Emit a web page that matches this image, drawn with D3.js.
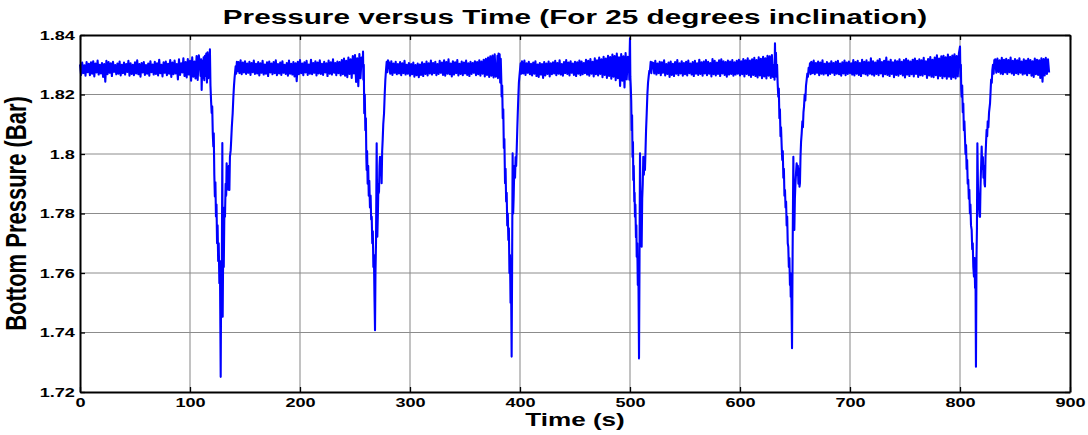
<!DOCTYPE html>
<html>
<head>
<meta charset="utf-8">
<script src="https://cdn.jsdelivr.net/npm/d3@7"></script>
<style>
  body { margin: 0; background: #fff; }
  text { font-family: 'Liberation Sans', Arial, sans-serif; font-weight: bold; fill: #000; }
</style>
</head>
<body>
<svg id="chart" width="1088" height="435"></svg>
<script>
// Axis settings
const xTicks = [0, 100, 200, 300, 400, 500, 600, 700, 800, 900];
const yTicks = [1.72, 1.74, 1.76, 1.78, 1.8, 1.82, 1.84];
const titleText = 'Pressure versus Time (For 25 degrees inclination)';
const xLabel = 'Time (s)';
const yLabel = 'Bottom Pressure (Bar)';

// Flat stretches between the dips: one sample per second,
// values in mbar above 1.800 bar
const baseA = [ // t = 0..108
  30.1, 26.6, 30.7, 27.2, 29.8, 26.3, 30.9, 27.5, 30.3, 26.5,
  30.8, 27.0, 31.2, 26.1, 30.4, 27.4, 31.4, 26.7, 30.0, 27.1,
  30.6, 25.9, 30.2, 24.3, 31.3, 26.8, 30.9, 27.3, 30.5, 26.2,
  31.0, 27.6, 29.9, 26.8, 30.4, 27.0, 31.1, 26.4, 30.0, 27.2,
  30.7, 26.7, 30.2, 27.6, 31.3, 26.3, 30.5, 26.9, 30.0, 26.5,
  30.8, 27.1, 31.5, 26.8, 30.2, 26.0, 30.6, 27.4, 30.9, 26.6,
  29.9, 27.0, 30.4, 26.3, 31.2, 27.5, 30.1, 26.7, 31.0, 26.9,
  30.5, 26.4, 31.7, 27.2, 30.0, 26.1, 30.8, 27.3, 31.1, 26.5,
  30.3, 27.0, 31.6, 25.9, 30.7, 26.8, 31.4, 27.1, 30.2, 25.1,
  31.8, 26.6, 30.5, 27.4, 32.2, 26.2, 30.9, 25.7, 31.9, 26.7,
  31.3, 24.6, 32.5, 26.0, 31.1, 25.4, 32.9, 24.9, 33.2
];
const baseB = [ // t = 144..256
  30.9, 27.2, 31.5, 26.8, 30.7, 27.4, 31.2, 26.9, 30.4, 27.3,
  31.0, 26.6, 30.6, 27.5, 31.4, 26.9, 30.3, 27.1, 30.9, 26.4,
  30.5, 27.3, 31.3, 26.7, 30.1, 27.0, 30.8, 26.2, 31.1, 27.4,
  30.4, 26.8, 30.9, 27.2, 31.5, 26.5, 30.2, 27.1, 30.7, 26.6,
  31.2, 27.3, 30.0, 26.9, 30.6, 26.3, 31.4, 27.0, 30.3, 26.7,
  30.9, 26.1, 30.5, 24.5, 31.0, 26.8, 31.6, 27.2, 30.4, 26.5,
  30.8, 27.4, 31.3, 26.6, 30.1, 27.0, 31.7, 26.8, 30.6, 27.3,
  31.2, 26.4, 30.7, 27.1, 31.5, 26.9, 30.3, 26.6, 31.0, 27.4,
  30.5, 26.2, 31.4, 27.0, 30.8, 26.7, 31.8, 27.3, 30.6, 26.5,
  31.1, 27.2, 30.9, 26.4, 31.6, 26.8, 32.1, 26.3, 31.3, 25.8,
  32.4, 26.9, 31.8, 25.6, 32.9, 27.1, 33.3, 24.2, 32.2, 22.8,
  33.6, 25.5, 32.4
];
const baseC = [ // t = 281..378
  30.6, 27.0, 31.2, 26.6, 30.4, 27.3, 31.0, 26.8, 30.2, 27.1,
  30.9, 26.5, 30.5, 27.2, 31.3, 26.7, 30.0, 27.0, 30.6, 26.3,
  30.2, 26.8, 30.7, 26.0, 29.9, 26.5, 30.4, 25.8, 30.1, 26.6,
  30.8, 26.2, 30.3, 26.9, 31.1, 26.4, 30.5, 27.1, 31.4, 26.7,
  30.6, 27.2, 31.0, 26.5, 30.2, 26.9, 31.3, 27.3, 30.7, 26.6,
  31.5, 26.3, 30.9, 27.0, 31.8, 26.8, 30.4, 26.1, 31.2, 26.7,
  30.8, 27.2, 31.6, 26.4, 30.3, 26.9, 31.1, 26.5, 30.7, 27.1,
  31.4, 26.6, 30.5, 26.2, 31.0, 26.9, 30.6, 27.3, 31.2, 26.5,
  30.9, 26.8, 31.5, 26.3, 31.1, 27.0, 31.7, 26.1, 32.0, 26.6,
  32.4, 25.9, 32.8, 26.3, 33.1, 25.7, 33.5, 26.0
];
const baseD = [ // t = 402..498
  30.8, 27.1, 31.4, 26.6, 30.5, 27.3, 31.0, 26.8, 30.3, 26.4,
  30.7, 27.0, 31.2, 26.2, 30.1, 25.9, 30.6, 26.7, 30.2, 25.6,
  30.9, 26.4, 30.4, 26.9, 31.1, 26.1, 30.5, 26.8, 30.8, 27.1,
  31.3, 26.5, 30.6, 27.0, 31.5, 26.7, 30.2, 26.3, 30.9, 27.2,
  31.6, 26.9, 30.7, 26.4, 31.2, 27.3, 30.4, 26.6, 31.0, 26.2,
  30.8, 27.0, 31.4, 26.5, 31.1, 26.8, 30.6, 27.2, 31.7, 26.7,
  31.3, 26.3, 31.9, 27.0, 31.0, 26.1, 32.2, 26.8, 31.5, 26.4,
  32.4, 26.9, 31.8, 25.8, 32.7, 26.6, 32.1, 25.6, 33.0, 26.2,
  32.6, 25.3, 33.4, 26.0, 32.9, 24.8, 33.8, 25.5, 32.5, 22.9,
  33.6, 24.6, 32.8, 22.4, 33.9, 25.1, 32.7
];
const baseE = [ // t = 521..630
  30.6, 27.1, 31.3, 26.7, 30.4, 27.2, 31.0, 26.5, 30.8, 27.3,
  31.5, 26.4, 30.2, 26.9, 30.7, 25.9, 31.1, 26.6, 30.3, 26.2,
  30.9, 27.0, 31.6, 26.5, 30.5, 27.1, 31.2, 26.3, 30.6, 26.8,
  31.0, 26.4, 31.4, 27.2, 30.4, 26.7, 30.9, 26.2, 31.3, 27.0,
  30.5, 26.6, 31.7, 26.9, 30.8, 26.3, 31.1, 27.1, 31.6, 26.5,
  31.0, 27.0, 30.6, 26.1, 31.9, 26.8, 31.3, 26.4, 30.7, 26.9,
  31.5, 26.2, 31.8, 27.1, 31.2, 26.6, 30.9, 26.0, 31.4, 26.7,
  31.1, 26.9, 31.6, 26.3, 30.8, 26.7, 31.3, 27.0, 31.7, 26.4,
  31.2, 26.8, 31.9, 26.1, 31.5, 26.9, 32.2, 26.5, 31.4, 25.9,
  31.8, 26.6, 32.3, 26.2, 31.6, 25.7, 32.5, 26.4, 32.0, 25.5,
  32.7, 26.1, 32.2, 25.4, 33.0, 26.3, 32.8, 25.6, 33.3, 25.9
];
const baseF = [ // t = 665..799
  30.9, 27.2, 31.4, 26.8, 30.6, 27.3, 31.1, 26.5, 30.7, 27.0,
  31.5, 26.7, 30.3, 27.1, 30.9, 26.4, 30.5, 26.9, 31.2, 27.3,
  30.6, 26.6, 31.0, 27.0, 31.3, 26.8, 30.4, 26.3, 30.8, 27.1,
  31.4, 26.5, 30.7, 26.9, 31.1, 27.2, 30.5, 26.7, 31.6, 26.4,
  30.9, 27.0, 31.3, 26.6, 30.6, 26.2, 31.7, 27.1, 31.0, 26.8,
  31.5, 26.4, 30.8, 27.0, 32.2, 26.7, 31.2, 26.3, 30.7, 26.9,
  31.4, 26.5, 31.9, 27.1, 30.9, 26.1, 31.3, 26.8, 32.4, 26.6,
  31.1, 26.2, 31.7, 26.9, 30.8, 25.8, 31.5, 26.6, 31.2, 26.3,
  31.8, 26.9, 31.0, 26.4, 31.6, 25.7, 32.0, 26.7, 31.4, 26.2,
  31.1, 26.8, 31.7, 26.1, 32.1, 26.9, 31.3, 25.9, 31.8, 26.5,
  31.5, 26.3, 32.3, 26.8, 31.2, 25.6, 31.9, 26.4, 32.6, 26.0,
  31.7, 25.8, 32.4, 26.5, 33.2, 25.4, 32.1, 26.2, 32.8, 25.5,
  33.0, 26.1, 32.5, 25.3, 33.4, 26.0, 32.7, 25.2, 33.1, 25.8,
  33.5, 25.4, 32.9, 26.1, 33.8
];
const baseG = [ // t = 832..881
  31.8, 27.3, 32.1, 27.6, 31.5, 27.0, 32.3, 26.8, 31.7, 27.4,
  32.0, 26.9, 31.6, 27.5, 32.4, 27.1, 31.3, 26.6, 31.9, 27.2,
  31.5, 26.8, 32.2, 27.3, 31.1, 26.7, 31.8, 27.0, 31.4, 26.5,
  32.0, 27.2, 31.6, 26.3, 31.2, 25.9, 32.1, 26.8, 31.7, 26.6,
  31.5, 25.6, 32.2, 24.3, 31.9, 26.4, 32.3, 26.9, 31.8, 27.4
];

// The six pressure dips, [time (s), pressure (bar)]
const dip1 = [
  [109, 1.8305], [109.6, 1.8262], [110.2, 1.8318], [110.6, 1.8215], [111.2, 1.8312], [111.8, 1.8255],
  [112.4, 1.8325], [113, 1.8248], [113.6, 1.833], [114.2, 1.8262], [114.8, 1.8338], [115.4, 1.824],
  [116, 1.8342], [116.6, 1.8255], [117.2, 1.8335], [117.7, 1.8265], [118.1, 1.8352], [118.6, 1.823],
  [119.2, 1.8175], [119.7, 1.8138], [120.2, 1.816], [120.7, 1.807], [121.2, 1.8025], [121.6, 1.807],
  [122.1, 1.793], [122.6, 1.7857], [123.1, 1.7905], [123.6, 1.779], [124.1, 1.783], [124.6, 1.77],
  [125.1, 1.776], [125.6, 1.764], [126.1, 1.77], [126.7, 1.7566], [127.2, 1.764], [127.6, 1.742],
  [127.9, 1.7251], [128.3, 1.756], [128.8, 1.748], [129.4, 1.8037], [129.7, 1.7453], [130.2, 1.77],
  [130.7, 1.762], [131.3, 1.782], [131.8, 1.7789], [132.4, 1.79], [132.9, 1.786], [133.3, 1.7969],
  [133.8, 1.791], [134.3, 1.795], [134.8, 1.788], [135.3, 1.796], [135.8, 1.7879], [136.3, 1.799],
  [137, 1.8013], [137.5, 1.805], [138, 1.809], [138.5, 1.812], [138.8, 1.8137], [139.4, 1.819],
  [140, 1.823], [140.5, 1.8255], [140.9, 1.8271], [141.5, 1.8295], [142, 1.827], [142.6, 1.831],
  [143.2, 1.8278], [143.9, 1.8305]
];
const dip2 = [
  [257, 1.83], [257.3, 1.8344], [257.6, 1.825], [258, 1.83], [258.4, 1.8137], [258.9, 1.82],
  [259.4, 1.808], [259.9, 1.812], [260.3, 1.799], [260.6, 1.7946], [261, 1.801], [261.5, 1.79],
  [262, 1.796], [262.5, 1.786], [263, 1.791], [263.6, 1.782], [264.2, 1.786], [264.7, 1.778],
  [265.2, 1.7789], [265.7, 1.77], [266.2, 1.774], [266.7, 1.762], [267.2, 1.766], [267.7, 1.752],
  [268.2, 1.7408], [268.6, 1.76], [269.1, 1.77], [269.7, 1.8036], [270.3, 1.7722], [270.8, 1.78],
  [271.3, 1.79], [271.8, 1.787], [272.3, 1.796], [272.7, 1.7991], [273.2, 1.793], [273.7, 1.799],
  [274.2, 1.7902], [274.7, 1.801], [275.2, 1.805], [275.7, 1.81], [276.4, 1.8137], [277, 1.82],
  [277.6, 1.825], [278.2, 1.8282], [278.8, 1.831], [279.4, 1.8275], [280, 1.8315]
];
const dip3 = [
  [379, 1.827], [379.5, 1.833], [380, 1.8255], [380.5, 1.8338], [381, 1.8262], [381.5, 1.8335],
  [382, 1.824], [382.5, 1.832], [383, 1.825], [383.3, 1.8193], [383.8, 1.823], [384.3, 1.812],
  [384.8, 1.815], [385.3, 1.802], [385.8, 1.805], [386.4, 1.7902], [386.9, 1.795], [387.4, 1.784],
  [387.9, 1.787], [388.4, 1.776], [388.9, 1.78], [389.4, 1.7711], [389.9, 1.775], [390.4, 1.76],
  [390.9, 1.766], [391.4, 1.75], [391.9, 1.756], [392.4, 1.7319], [392.8, 1.76], [393.3, 1.8002],
  [393.8, 1.78], [394.2, 1.785], [394.5, 1.7902], [395, 1.796], [395.5, 1.792], [396, 1.799],
  [396.5, 1.796], [397, 1.8013], [397.5, 1.808], [398, 1.814], [398.5, 1.8193], [399, 1.824],
  [399.5, 1.8262], [400, 1.8282], [400.6, 1.8305], [401.2, 1.827], [401.8, 1.8312]
];
const dip4 = [
  [499, 1.83], [499.4, 1.825], [499.7, 1.834], [500, 1.8389], [500.3, 1.826], [500.7, 1.8226],
  [501.1, 1.818], [501.5, 1.808], [501.9, 1.813], [502.3, 1.799], [502.7, 1.804], [503, 1.7913],
  [503.4, 1.796], [503.9, 1.784], [504.2, 1.787], [504.5, 1.7789], [504.9, 1.783], [505.4, 1.772],
  [505.8, 1.776], [506.1, 1.7655], [506.6, 1.77], [507.1, 1.756], [507.6, 1.762], [508.2, 1.7313],
  [508.6, 1.76], [509.1, 1.8002], [509.6, 1.78], [510.1, 1.774], [510.6, 1.7688], [511.1, 1.785],
  [511.6, 1.79], [512.1, 1.7991], [512.6, 1.793], [513.1, 1.798], [513.6, 1.7946], [514.1, 1.801],
  [514.6, 1.808], [515.2, 1.8137], [515.8, 1.82], [516.4, 1.824], [517, 1.8262], [517.6, 1.828],
  [518.2, 1.8282], [518.8, 1.831], [519.4, 1.8272], [520, 1.8308]
];
const dip5 = [
  [631, 1.83], [631.4, 1.825], [631.8, 1.8372], [632.2, 1.828], [632.7, 1.834], [633.2, 1.826],
  [633.7, 1.83], [634.2, 1.824], [634.8, 1.8193], [635.3, 1.822], [635.8, 1.812], [636.3, 1.815],
  [636.8, 1.806], [637.3, 1.809], [637.9, 1.8025], [638.4, 1.798], [638.9, 1.801], [639.4, 1.792],
  [639.9, 1.795], [640.4, 1.786], [640.9, 1.7879], [641.4, 1.782], [641.9, 1.784], [642.4, 1.776],
  [642.9, 1.779], [643.4, 1.77], [643.9, 1.7688], [644.4, 1.762], [644.9, 1.765], [645.4, 1.756],
  [645.8, 1.76], [646.1, 1.752], [646.6, 1.756], [647.3, 1.7347], [647.8, 1.765], [648.5, 1.7991],
  [649, 1.78], [649.4, 1.7745], [649.9, 1.785], [650.4, 1.79], [651, 1.794], [651.5, 1.7969],
  [652, 1.793], [652.6, 1.796], [653.1, 1.79], [653.6, 1.795], [654.1, 1.789], [654.5, 1.7902],
  [655, 1.799], [655.5, 1.804], [656.1, 1.807], [656.7, 1.811], [657.2, 1.809], [657.7, 1.814],
  [658.2, 1.8159], [658.8, 1.82], [659.4, 1.818], [660, 1.823], [660.6, 1.8249], [661.2, 1.827],
  [661.8, 1.826], [662.4, 1.829], [663, 1.8275], [663.6, 1.8305], [664.2, 1.8268], [664.8, 1.831]
];
const dip6 = [
  [800, 1.8361], [800.4, 1.826], [800.8, 1.83], [801.1, 1.822], [801.5, 1.8193], [802, 1.823],
  [802.5, 1.814], [803, 1.817], [803.5, 1.808], [804, 1.811], [804.5, 1.8058], [805, 1.8],
  [805.5, 1.803], [806, 1.795], [806.5, 1.798], [807, 1.79], [807.5, 1.7913], [808, 1.785],
  [808.5, 1.788], [809, 1.78], [809.5, 1.783], [810, 1.776], [810.6, 1.7745], [811.1, 1.768],
  [811.6, 1.77], [812.1, 1.762], [812.7, 1.7588], [813.2, 1.765], [813.7, 1.755], [814.1, 1.76],
  [814.5, 1.7285], [815, 1.765], [815.4, 1.775], [815.8, 1.8036], [816.3, 1.79], [816.8, 1.785],
  [817.3, 1.782], [817.8, 1.779], [818.2, 1.7789], [818.7, 1.79], [819.2, 1.796], [819.7, 1.8025],
  [820.2, 1.795], [820.8, 1.799], [821.3, 1.792], [821.8, 1.796], [822.3, 1.79], [822.7, 1.7891],
  [823.2, 1.799], [823.7, 1.804], [824.2, 1.8081], [824.7, 1.806], [825.2, 1.811], [825.8, 1.809],
  [826.4, 1.814], [827.3, 1.817], [827.8, 1.821], [828.3, 1.825], [828.9, 1.824], [829.4, 1.8282],
  [830, 1.83], [830.6, 1.827], [831.2, 1.8316], [831.8, 1.829]
];

// flat stretch -> [t, bar]
function flat(start, vals) {
  return vals.map((v, i) => [start + i, 1.8 + v / 1000]);
}

const series = [
  ...flat(0, baseA), ...dip1,
  ...flat(144, baseB), ...dip2,
  ...flat(281, baseC), ...dip3,
  ...flat(402, baseD), ...dip4,
  ...flat(521, baseE), ...dip5,
  ...flat(665, baseF), ...dip6,
  ...flat(832, baseG)
];

// The source image is stretched sideways, text included
const stretch = 1.45;

const svg = d3.select('#chart');
const margin = { top: 35, right: 18, bottom: 43, left: 80 };
const width = +svg.attr('width') - margin.left - margin.right;
const height = +svg.attr('height') - margin.top - margin.bottom;

const x = d3.scaleLinear().domain([0, 900]).range([0, width]);
const y = d3.scaleLinear().domain([1.72, 1.84]).range([height, 0]);

const g = svg.append('g').attr('transform', `translate(${margin.left},${margin.top})`);

// Grid
g.append('g')
  .attr('class', 'grid')
  .selectAll('line.gx')
  .data(xTicks.slice(1, -1))
  .join('line')
  .attr('x1', (d) => x(d))
  .attr('x2', (d) => x(d))
  .attr('y1', 0)
  .attr('y2', height)
  .attr('stroke', '#858585')
  .attr('stroke-width', 1);

g.append('g')
  .attr('class', 'grid')
  .selectAll('line.gy')
  .data(yTicks.slice(1, -1))
  .join('line')
  .attr('x1', 0)
  .attr('x2', width)
  .attr('y1', (d) => y(d))
  .attr('y2', (d) => y(d))
  .attr('stroke', '#8c8c8c')
  .attr('stroke-width', 1);

// Pressure trace
const line = d3
  .line()
  .x((d) => x(d[0]))
  .y((d) => y(d[1]));

g.append('path')
  .datum(series)
  .attr('fill', 'none')
  .attr('stroke', '#0000ff')
  .attr('stroke-width', 2.1)
  .attr('stroke-linejoin', 'round')
  .attr('d', line);

// Axes, MATLAB style box with inward ticks
const fmt = d3.format('~g');

function styleAxis(sel) {
  sel.select('.domain').attr('stroke', '#000').attr('stroke-width', 2);
  sel.selectAll('.tick line').attr('stroke', '#000').attr('stroke-width', 1.3);
  sel.selectAll('.tick text').attr('font-size', 12.5).attr('font-weight', 'bold').attr('fill', '#000');
}

g.append('g')
  .attr('transform', `translate(0,${height})`)
  .call(d3.axisBottom(x).tickValues(xTicks).tickFormat(fmt).tickSize(-5).tickSizeOuter(0).tickPadding(6))
  .call(styleAxis)
  .selectAll('.tick text')
  .attr('transform', `scale(${stretch},1)`);

g.append('g')
  .call(d3.axisLeft(y).tickValues(yTicks).tickFormat(fmt).tickSize(-5).tickSizeOuter(0).tickPadding(3.5))
  .call(styleAxis)
  .selectAll('.tick text')
  .attr('transform', `scale(${stretch},1)`);

g.append('g')
  .call(d3.axisTop(x).tickValues(xTicks).tickFormat('').tickSize(-5).tickSizeOuter(0))
  .call(styleAxis);

g.append('g')
  .attr('transform', `translate(${width},0)`)
  .call(d3.axisRight(y).tickValues(yTicks).tickFormat('').tickSize(-5).tickSizeOuter(0))
  .call(styleAxis);

// Titles
svg.append('text')
  .attr('transform', `translate(${margin.left + width / 2},24) scale(${stretch},1)`)
  .attr('text-anchor', 'middle')
  .attr('font-size', 20.5)
  .text(titleText);

svg.append('text')
  .attr('transform', `translate(${margin.left + width / 2},426) scale(${stretch},1)`)
  .attr('text-anchor', 'middle')
  .attr('font-size', 18)
  .text(xLabel);

svg.append('text')
  .attr('transform', `translate(26,${margin.top + height / 2}) scale(1.3,1) rotate(-90)`)
  .attr('text-anchor', 'middle')
  .attr('font-size', 22)
  .text(yLabel);
</script>
</body>
</html>
